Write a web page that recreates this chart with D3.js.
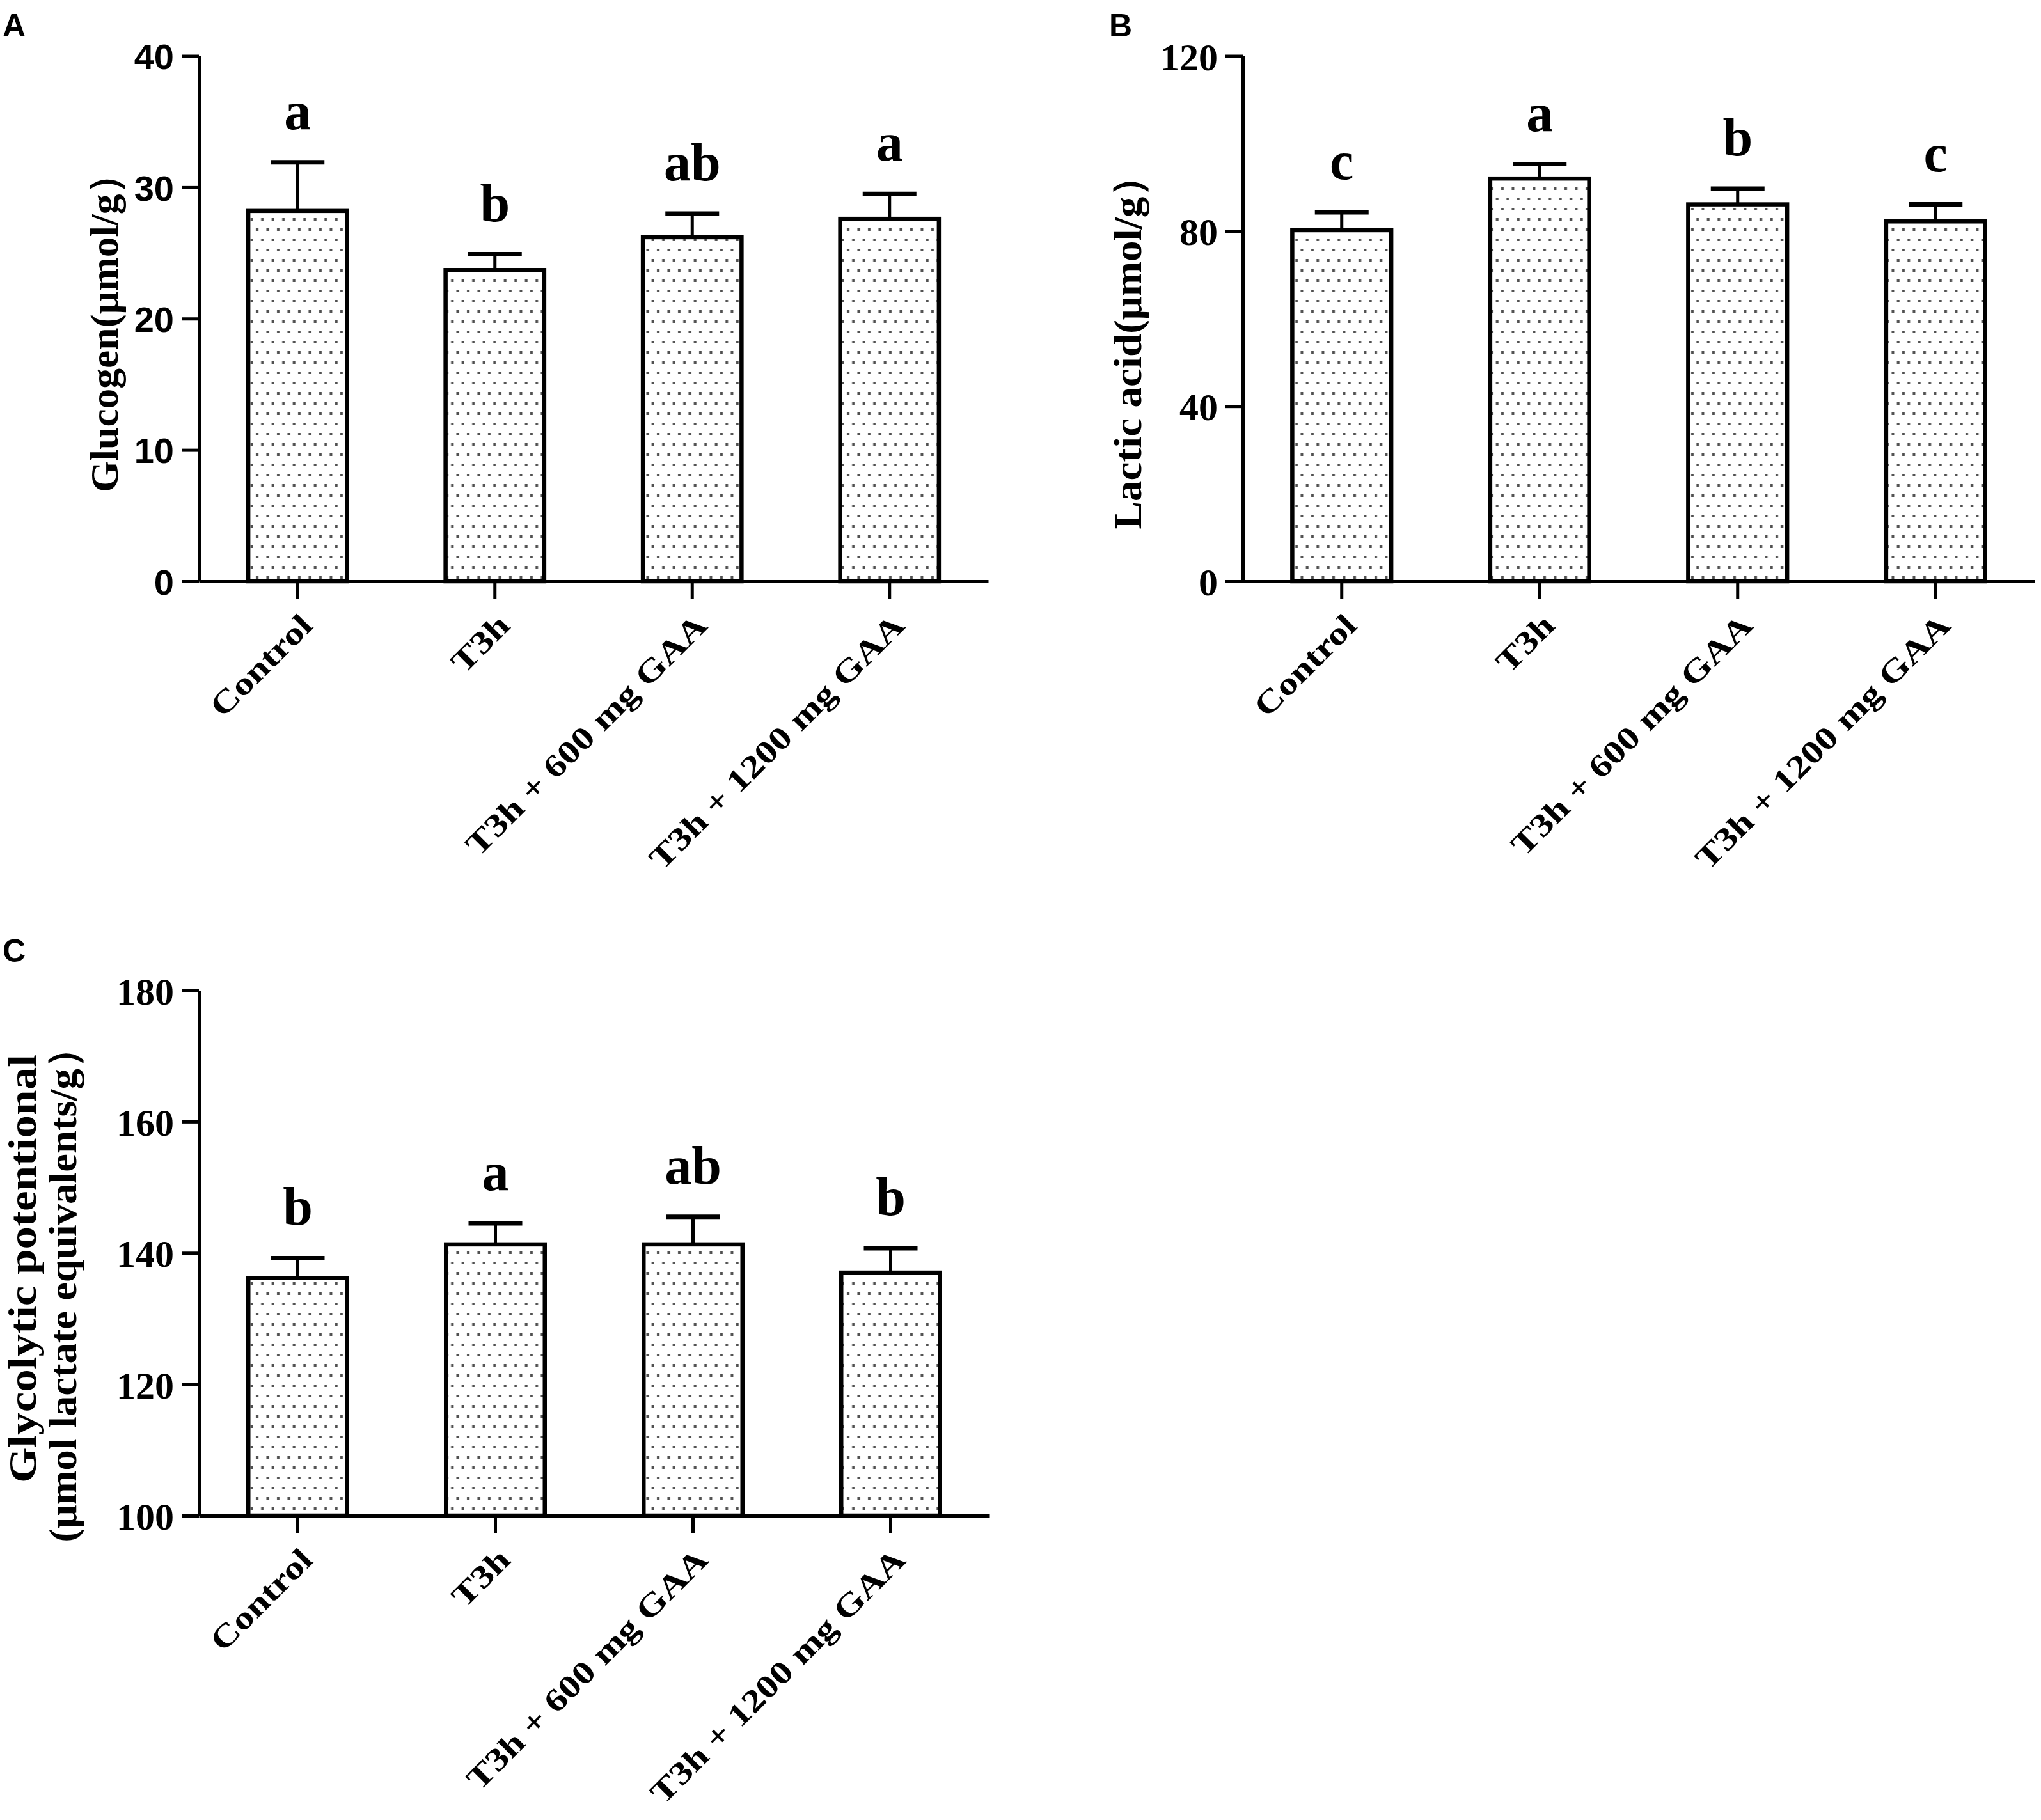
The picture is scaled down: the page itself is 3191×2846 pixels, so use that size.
<!DOCTYPE html>
<html>

<head>
    <meta charset="UTF-8">
    <title>Glycogen, lactic acid and glycolytic potential</title>
    <style>
        body { margin: 0; background: #fff; }
    </style>
</head>

<body>

    <svg id="fig"></svg>

    <script src="https://cdn.jsdelivr.net/npm/d3@7"></script>
    <script>
        const categories = ['Control', 'T3h', 'T3h + 600 mg GAA', 'T3h + 1200 mg GAA'];

        // panel A - glycogen
        const glycogenMean = [28.2, 23.7, 26.2, 27.6];
        const glycogenErr = [3.7, 1.2, 1.8, 1.9];
        const glycogenSig = ['a', 'b', 'ab', 'a'];
        const glycogenTicks = [0, 10, 20, 30, 40];

        // panel B - lactic acid
        const lacticMean = [80.2, 92.0, 86.1, 82.2];
        const lacticErr = [4.1, 3.3, 3.6, 3.9];
        const lacticSig = ['c', 'a', 'b', 'c'];
        const lacticTicks = [0, 40, 80, 120];

        // panel C - glycolytic potential
        const gpMean = [136.2, 141.3, 141.3, 137.0];
        const gpErr = [3.0, 3.2, 4.2, 3.7];
        const gpSig = ['b', 'a', 'ab', 'b'];
        const gpTicks = [100, 120, 140, 160, 180];

        const width = 3191;
        const height = 2846;
        const serif = "'Liberation Serif', 'Times New Roman', serif";
        const sans = "'Liberation Sans', Arial, sans-serif";

        const svg = d3.select('#fig')
            .attr('width', width)
            .attr('height', height)
            .style('background', '#fff');

        // dotted bar fill
        const pat = svg.append('defs').append('pattern')
            .attr('id', 'dots')
            .attr('patternUnits', 'userSpaceOnUse')
            .attr('width', 16.5)
            .attr('height', 32);
        pat.append('rect').attr('width', 16.5).attr('height', 32).attr('fill', '#fff');
        pat.append('rect').attr('x', 4).attr('y', 5).attr('width', 4).attr('height', 4).attr('fill', '#505050');
        pat.append('rect').attr('x', 12.2).attr('y', 21).attr('width', 4).attr('height', 4).attr('fill', '#505050');

        function drawPanel(p) {
            const g = svg.append('g').attr('class', 'panel');

            const x = d3.scaleBand()
                .domain(categories)
                .range([p.axisX, p.endX])
                .paddingInner(0.5)
                .paddingOuter(0.25);
            const y = d3.scaleLinear()
                .domain(p.domain)
                .range([p.bottom, p.top]);

            const data = categories.map((c, i) => ({ cat: c, mean: p.mean[i], err: p.err[i], sig: p.sig[i] }));

            // bars
            g.append('g').selectAll('rect')
                .data(data)
                .enter()
                .append('rect')
                .attr('x', d => x(d.cat))
                .attr('width', x.bandwidth())
                .attr('y', d => y(d.mean))
                .attr('height', d => y(p.domain[0]) - y(d.mean))
                .style('fill', 'url(#dots)')
                .style('stroke', '#000')
                .style('stroke-width', 6.5);

            // error bars (upper only)
            const eb = g.append('g').selectAll('g')
                .data(data)
                .enter()
                .append('g');
            eb.append('line')
                .attr('x1', d => x(d.cat) + x.bandwidth() / 2)
                .attr('x2', d => x(d.cat) + x.bandwidth() / 2)
                .attr('y1', d => y(d.mean))
                .attr('y2', d => y(d.mean + d.err))
                .style('stroke', '#000')
                .style('stroke-width', 5);
            eb.append('line')
                .attr('x1', d => x(d.cat) + x.bandwidth() / 2 - 42)
                .attr('x2', d => x(d.cat) + x.bandwidth() / 2 + 42)
                .attr('y1', d => y(d.mean + d.err))
                .attr('y2', d => y(d.mean + d.err))
                .style('stroke', '#000')
                .style('stroke-width', 7);

            // significance letters
            g.append('g').selectAll('text')
                .data(data)
                .enter()
                .append('text')
                .attr('x', d => x(d.cat) + x.bandwidth() / 2)
                .attr('y', d => y(d.mean + d.err) - 52)
                .attr('text-anchor', 'middle')
                .style('font-family', serif)
                .style('font-weight', 'bold')
                .style('font-size', '84px')
                .text(d => d.sig);

            // y axis
            const yAxis = g.append('g')
                .attr('transform', `translate(${p.axisX},0)`)
                .call(d3.axisLeft(y).tickValues(p.ticks).tickSize(27).tickSizeOuter(0).tickPadding(12));
            yAxis.select('.domain').style('stroke-width', 5);
            yAxis.selectAll('.tick line').style('stroke-width', 5);
            yAxis.selectAll('.tick text')
                .style('font-family', p.tickFont)
                .style('font-weight', 'bold')
                .style('font-size', p.tickSize + 'px')
                .attr('dy', '0.36em');

            // x axis
            const xAxis = g.append('g')
                .attr('transform', `translate(0,${p.bottom})`)
                .call(d3.axisBottom(x).tickSize(27).tickSizeOuter(0));
            xAxis.select('.domain').style('stroke-width', 5);
            xAxis.selectAll('.tick line').style('stroke-width', 5);
            xAxis.selectAll('.tick text')
                .attr('x', null)
                .attr('y', null)
                .attr('dy', null)
                .attr('text-anchor', 'end')
                .attr('transform', 'translate(26,72) rotate(-45) scale(1.22,1)')
                .style('font-family', serif)
                .style('font-weight', 'bold')
                .style('font-size', '50px');

            // y label (one or two lines)
            p.label.forEach((t, i) => {
                g.append('text')
                    .attr('transform', `translate(${p.labelX[i]},${p.labelY[i]}) rotate(-90)`)
                    .attr('text-anchor', 'middle')
                    .attr('textLength', p.labelLen[i])
                    .attr('lengthAdjust', 'spacingAndGlyphs')
                    .style('font-family', serif)
                    .style('font-weight', 'bold')
                    .style('font-size', '62px')
                    .text(t);
            });

            // panel letter
            svg.append('text')
                .attr('x', p.tagX)
                .attr('y', p.tagY)
                .style('font-family', sans)
                .style('font-weight', 'bold')
                .style('font-size', '50px')
                .text(p.tag);
        }

        drawPanel({
            tag: 'A', tagX: 4, tagY: 57,
            axisX: 311, endX: 1545, bottom: 909, top: 87.5,
            domain: [0, 40], ticks: glycogenTicks, tickFont: sans, tickSize: 56,
            mean: glycogenMean, err: glycogenErr, sig: glycogenSig,
            label: ['Glucogen(μmol/g）'], labelX: [184], labelY: [505], labelLen: [530]
        });

        drawPanel({
            tag: 'B', tagX: 1734, tagY: 57,
            axisX: 1943, endX: 3181, bottom: 909, top: 87.5,
            domain: [0, 120], ticks: lacticTicks, tickFont: serif, tickSize: 60,
            mean: lacticMean, err: lacticErr, sig: lacticSig,
            label: ['Lactic acid(μmol/g）'], labelX: [1784], labelY: [535], labelLen: [585]
        });

        drawPanel({
            tag: 'C', tagX: 4, tagY: 1504,
            axisX: 311, endX: 1547, bottom: 2370, top: 1548.5,
            domain: [100, 180], ticks: gpTicks, tickFont: serif, tickSize: 60,
            mean: gpMean, err: gpErr, sig: gpSig,
            label: ['Glycolytic potentional', '(μmol lactate equivalents/g）'],
            labelX: [56, 119], labelY: [1984, 2009], labelLen: [670, 805]
        });
    </script>
</body>

</html>
